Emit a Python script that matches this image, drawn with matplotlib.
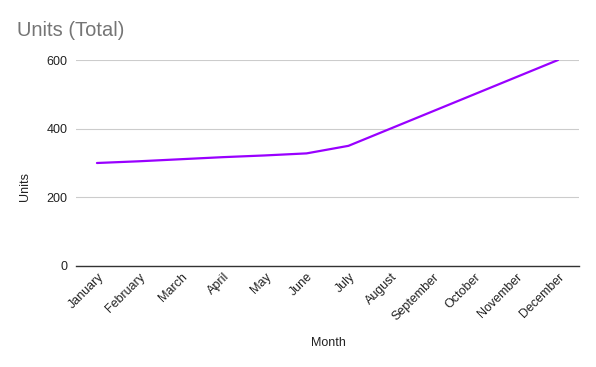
import matplotlib
matplotlib.use("Agg")
import matplotlib.pyplot as plt
import matplotlib.transforms as mtransforms

months = ["January", "February", "March", "April", "May", "June", "July",
          "August", "September", "October", "November", "December"]
units = [300, 305, 311, 317, 322, 328, 350, 400, 450, 500, 550, 600]
yticks = [0, 200, 400, 600]

plt.rcParams['font.family'] = ['Liberation Sans', 'DejaVu Sans']

fig = plt.figure(figsize=(5.96, 3.67), dpi=100)
ax = fig.add_axes([76/596, 1 - 266/367, 503/596, 206/367])

x = list(range(len(months)))
ax.plot(x, units, color='#9900ff', linewidth=1.6, solid_capstyle='round')

ax.set_xlim(-0.5, len(months) - 0.5)
ax.set_ylim(0, 600)
ax.set_yticks(yticks)
ax.set_yticklabels([str(v) for v in yticks], fontsize=9, color='#222222')
ax.set_xticks(x)
ax.set_xticklabels([])

# rotated category labels, placed just below the baseline
base = mtransforms.blended_transform_factory(ax.transData, ax.transAxes)
offset = mtransforms.ScaledTranslation(0.5 / 100, -5 / 100, fig.dpi_scale_trans)
for xi, name in zip(x, months):
    ax.text(xi, 0, name, transform=base + offset, rotation=45,
            ha='right', va='top', rotation_mode='anchor',
            fontsize=9, color='#222222')

ax.grid(axis='y', color='#cccccc', linewidth=0.8)
ax.set_axisbelow(True)
for s in ['top', 'right', 'left']:
    ax.spines[s].set_visible(False)
ax.spines['bottom'].set_color('#333333')
ax.spines['bottom'].set_linewidth(1.0)
ax.spines['bottom'].set_zorder(3)
ax.tick_params(axis='both', length=0)
ax.tick_params(axis='y', pad=6)

ax.set_xlabel("Month", fontsize=9, color='#222222')
ax.xaxis.set_label_coords((328 - 76) / 503, -(343 - 266) / 206)
ax.xaxis.label.set_va('center')
ax.set_ylabel("Units", fontsize=9, color='#222222')
ax.yaxis.set_label_coords((25 - 76) / 503, (266 - 186) / 206)
ax.yaxis.label.set_va('center')

fig.text(17/596, 1 - 30/367, "Units (Total)", fontsize=14.5, color='#757575',
         ha='left', va='center')

fig.savefig("out.png", dpi=100)
